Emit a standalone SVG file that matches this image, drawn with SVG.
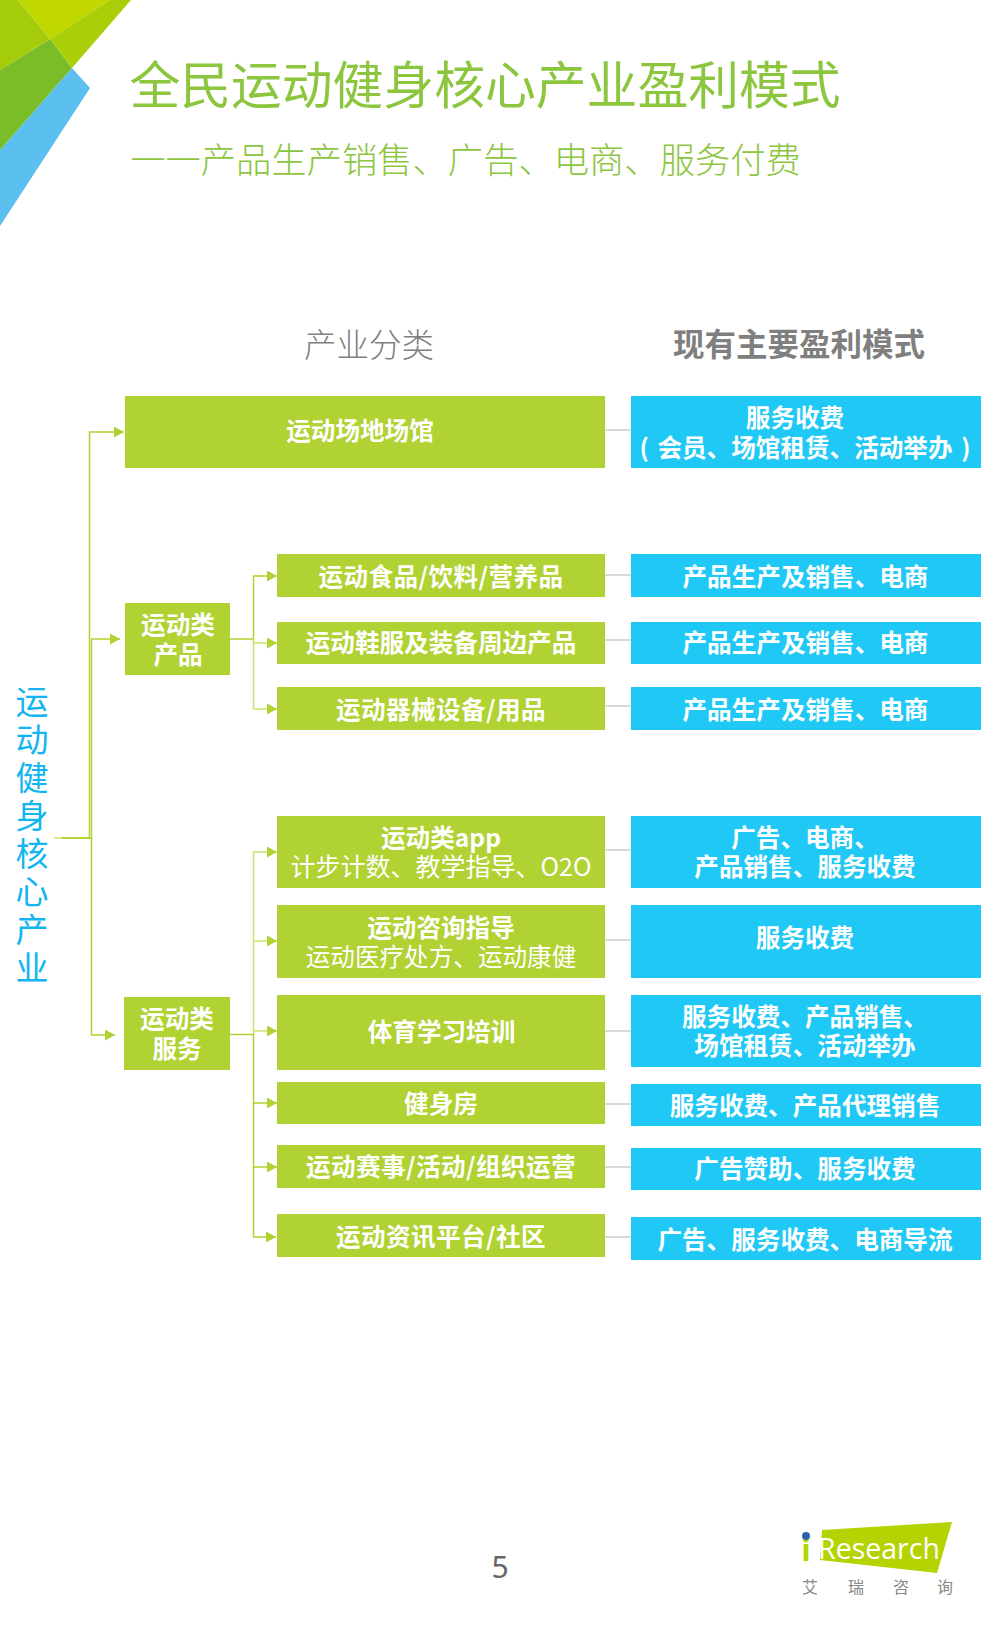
<svg xmlns="http://www.w3.org/2000/svg" width="1000" height="1640" viewBox="0 0 1000 1640">
<style>
text{font-family:"Noto Sans CJK SC","Noto Sans",sans-serif;text-anchor:middle}
.g{fill:#b0d232}.b{fill:#1fc8f5}
.t{fill:#fff;font-size:24.6px;font-weight:700}
.s{letter-spacing:.4px}
.r{fill:#fff;font-size:24.6px;font-weight:400}
.h{fill:none;stroke:#b0d232;stroke-width:1.5}
.l{fill:none;stroke:#cbe36e;stroke-width:1.5}
.x{fill:none;stroke:#b5b5b5;stroke-width:1.2}
.v{fill:#12b5f0;font-size:33px;font-weight:400;writing-mode:vertical-rl;letter-spacing:5px;text-anchor:start}
</style>
<defs><marker id="a" markerUnits="userSpaceOnUse" markerWidth="11" markerHeight="12" refX="10" refY="5.5" orient="auto"><path d="M0 0L10 5.5L0 11Z" fill="#b0d232"/></marker></defs>
<g id="corner">
<polygon points="72,68 90,88 0,226 0,150" fill="#5bc0f0"/>
<polygon points="0,70 50,39 72,68 0,150" fill="#7abd28"/>
<polygon points="0,0 18,0 50,39 0,70" fill="#a5cc0a"/>
<polygon points="18,0 110,0 50,39" fill="#c1d800"/>
<polygon points="110,0 131,0 72,68 50,39" fill="#aacf08"/>
</g>
<g id="title">
<text x="485" y="104" font-size="50.8" font-weight="400" fill="#8cc63f">全民运动健身核心产业盈利模式</text>
<text x="465.500" y="173" font-size="35.3" font-weight="300" fill="#8cc63f">一一产品生产销售、广告、电商、服务付费</text>
<text x="369" y="357" font-size="32.5" font-weight="300" fill="#7f7f7f">产业分类</text>
<text x="799" y="356" font-size="31.5" font-weight="700" fill="#7f7f7f">现有主要盈利模式</text>
</g>
<g id="connectors">
<path class="l" d="M54 838H62"/>
<path class="h" d="M62 838H89.5V432H124" marker-end="url(#a)"/>
<path class="h" d="M62 838H91.5V639H120" marker-end="url(#a)"/>
<path class="h" d="M62 838H91.5V1035H115" marker-end="url(#a)"/>
<path class="h" d="M230 639H253.5V576H277" marker-end="url(#a)"/>
<path class="l" d="M253.5 639V643H277" marker-end="url(#a)"/>
<path class="l" d="M253.5 639V709H277" marker-end="url(#a)"/>
<path class="l" d="M253.5 1034V852H277" marker-end="url(#a)"/>
<path class="l" d="M253.5 941H277" marker-end="url(#a)"/>
<path class="l" d="M253.5 1031H277" marker-end="url(#a)"/>
<path class="h" d="M230 1034.500H253.500V1103H277" marker-end="url(#a)"/>
<path class="h" d="M253.500 1103V1167H277" marker-end="url(#a)"/>
<path class="h" d="M253.500 1167V1237H276" marker-end="url(#a)"/>
<path class="x" d="M605 430H631M605 575H631M605 640H631M605 706H631M605 850H631M605 940H631M605 1031H631M605 1104H631M605 1167H631M605 1237H631"/>
</g>
<g id="root"><text class="v" x="32" y="685">运动健身核心产业</text></g>
<g id="venue"><rect class="g" x="125" y="396" width="480" height="72"/><text class="t" x="360" y="439.500">运动场地场馆</text></g>
<g id="cat-products"><rect class="g" x="125" y="603" width="105" height="72"/><text class="t" x="178" y="634">运动类</text><text class="t" x="178" y="664">产品</text></g>
<g id="cat-services"><rect class="g" x="124" y="997" width="106" height="73"/><text class="t" x="177" y="1028">运动类</text><text class="t" x="177" y="1058">服务</text></g>
<g id="food"><rect class="g" x="277" y="554" width="328" height="43"/><text class="t s" x="441" y="586">运动食品/饮料/营养品</text></g>
<g id="shoes"><rect class="g" x="277" y="622" width="328" height="42"/><text class="t" x="441" y="652">运动鞋服及装备周边产品</text></g>
<g id="equip"><rect class="g" x="277" y="687" width="328" height="43"/><text class="t s" x="441" y="718.500">运动器械设备/用品</text></g>
<g id="app"><rect class="g" x="277" y="816" width="328" height="72"/><text class="t" x="441" y="846.500">运动类app</text><text class="r" x="441" y="876" style="font-size:25px">计步计数、教学指导、O2O</text></g>
<g id="consult"><rect class="g" x="277" y="905" width="328" height="73"/><text class="t" x="441" y="936.500">运动咨询指导</text><text class="r" x="441" y="966">运动医疗处方、运动康健</text></g>
<g id="training"><rect class="g" x="277" y="995" width="328" height="75"/><text class="t" x="441.500" y="1040.500">体育学习培训</text></g>
<g id="gym"><rect class="g" x="277" y="1082" width="328" height="42"/><text class="t" x="441" y="1113">健身房</text></g>
<g id="events"><rect class="g" x="277" y="1145" width="328" height="43"/><text class="t s" x="441" y="1176">运动赛事/活动/组织运营</text></g>
<g id="news"><rect class="g" x="277" y="1214" width="328" height="43"/><text class="t s" x="441" y="1246">运动资讯平台/社区</text></g>
<g id="m1"><rect class="b" x="631" y="396" width="350" height="72"/><text class="t" x="795" y="427">服务收费</text><text class="t" x="805" y="456.500" style="word-spacing:3px">( 会员、场馆租赁、活动举办 )</text></g>
<g id="m2"><rect class="b" x="631" y="554" width="350" height="43"/><text class="t" x="805.500" y="586">产品生产及销售、电商</text></g>
<g id="m3"><rect class="b" x="631" y="622" width="350" height="42"/><text class="t" x="805.500" y="652">产品生产及销售、电商</text></g>
<g id="m4"><rect class="b" x="631" y="687" width="350" height="43"/><text class="t" x="805.500" y="718.500">产品生产及销售、电商</text></g>
<g id="m5"><rect class="b" x="631" y="816" width="350" height="72"/><text class="t" x="805" y="846.500">广告、电商、</text><text class="t" x="805" y="876">产品销售、服务收费</text></g>
<g id="m6"><rect class="b" x="631" y="905" width="350" height="73"/><text class="t" x="805" y="947">服务收费</text></g>
<g id="m7"><rect class="b" x="631" y="995" width="350" height="72"/><text class="t" x="805" y="1026">服务收费、产品销售、</text><text class="t" x="805" y="1055">场馆租赁、活动举办</text></g>
<g id="m8"><rect class="b" x="631" y="1084" width="350" height="42"/><text class="t" x="805" y="1115">服务收费、产品代理销售</text></g>
<g id="m9"><rect class="b" x="631" y="1148" width="350" height="42"/><text class="t" x="805" y="1178">广告赞助、服务收费</text></g>
<g id="m10"><rect class="b" x="631" y="1217" width="350" height="43"/><text class="t" x="805" y="1249">广告、服务收费、电商导流</text></g>
<g id="page"><text x="500" y="1578" font-size="30" fill="#666" style="font-family:'Noto Sans',sans-serif">5</text></g>
<g id="logo">
<polygon points="822,1530 952,1522 937,1573 820,1560" fill="#b5d300"/>
<text x="806" y="1561" font-size="31" font-weight="700" fill="#b5d300" style="font-family:'Open Sans',sans-serif">i</text>
<circle cx="806" cy="1536" r="4" fill="#2a62a8"/>
<text x="879" y="1559" font-size="28.5" fill="#fff" style="font-family:'Open Sans',sans-serif">Research</text>
<text x="810" y="1593" font-size="16" fill="#888">艾</text><text x="856" y="1593" font-size="16" fill="#888">瑞</text><text x="901" y="1593" font-size="16" fill="#888">咨</text><text x="945" y="1593" font-size="16" fill="#888">询</text>
</g>
</svg>
